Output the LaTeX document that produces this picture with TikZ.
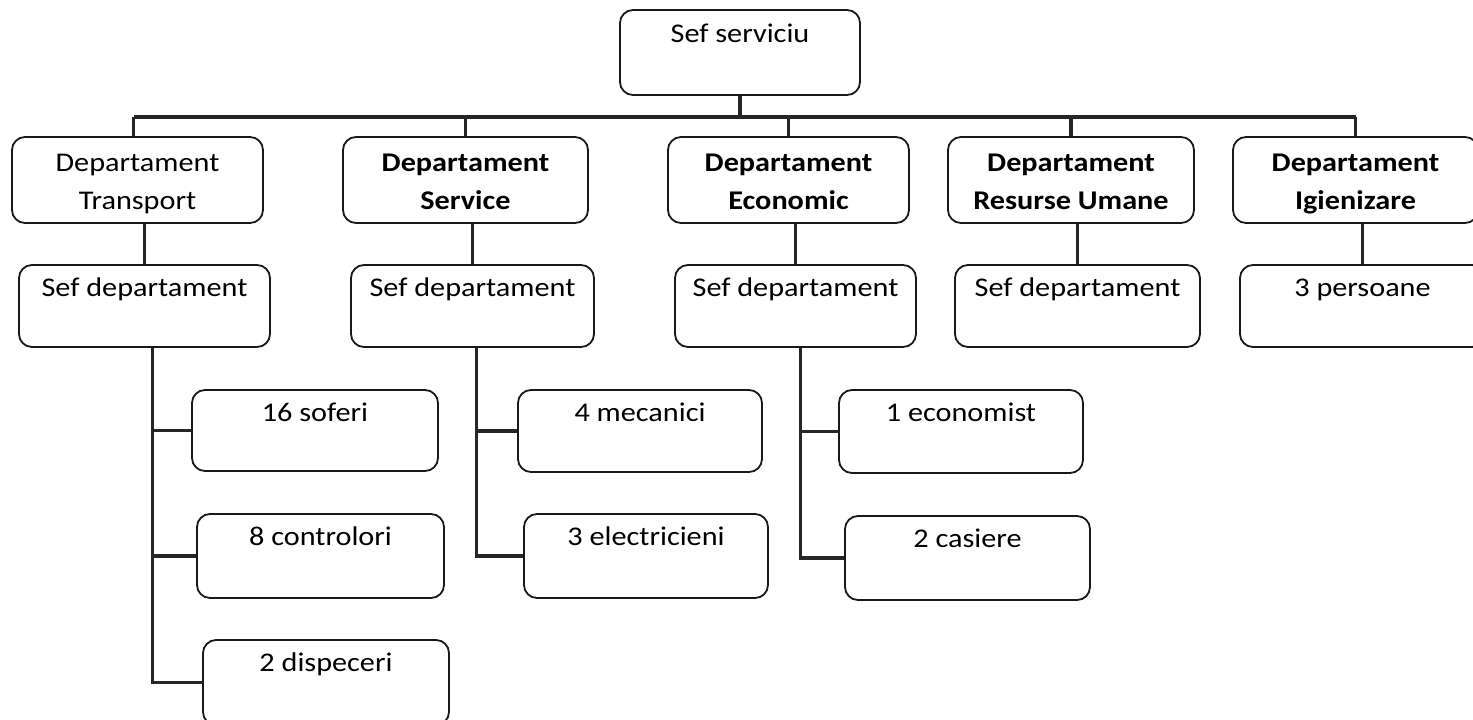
\documentclass[tikz,border=0pt]{standalone}
\usepackage{fontspec}
\setmainfont{Carlito}[FakeStretch=1.12]
\begin{document}
\begin{tikzpicture}[x=1pt,y=-1pt,
 box/.style={draw=black!90,line width=1.8pt,rounded corners=13pt,inner sep=0pt},
 conn/.style={draw=black!85,line width=3.4pt},
 lbl/.style={font=\fontsize{27}{32}\selectfont,inner sep=0pt,anchor=base},
 hdr/.style={lbl,font=\fontsize{27}{32}\selectfont\bfseries}]
\newcommand{\mkbox}[5]{\node[box,minimum width={(#4-#2)*1pt},minimum height={(#5-#3)*1pt}] (#1) at ({(#2+#4)/2},{(#3+#5)/2}) {};}
\useasboundingbox (0,0) rectangle (1473,720);
\fill[white] (0,0) rectangle (1473,720);
\clip (0,0) rectangle (1473,720);
% top
\mkbox{top}{620}{10}{860}{95}
\node[lbl] (ttop) at ([yshift=-33pt]top.north) {Sef serviciu};
% departments
\mkbox{DT}{12}{137}{263}{223}
\mkbox{DS}{343}{137}{588}{223}
\mkbox{DE}{668}{137}{909}{223}
\mkbox{DR}{948}{137}{1194}{223}
\mkbox{DI}{1233}{137}{1478}{223}
\node[lbl] (tDT1) at ([yshift=-35pt]DT.north) {Departament};
\node[lbl] (tDT2) at ([yshift=-73pt]DT.north) {Transport};
\node[hdr] (tDS1) at ([yshift=-35pt]DS.north) {Departament};
\node[hdr] (tDS2) at ([yshift=-73pt]DS.north) {Service};
\node[hdr] (tDE1) at ([yshift=-35pt]DE.north) {Departament};
\node[hdr] (tDE2) at ([yshift=-73pt]DE.north) {Economic};
\node[hdr] (tDR1) at ([yshift=-35pt]DR.north) {Departament};
\node[hdr] (tDR2) at ([yshift=-73pt]DR.north) {Resurse Umane};
\node[hdr] (tDI1) at ([yshift=-35pt]DI.north) {Departament};
\node[hdr] (tDI2) at ([yshift=-73pt]DI.north) {Igienizare};
% heads
\mkbox{ST}{19}{265}{270}{347}
\mkbox{SS}{351}{265}{594}{347}
\mkbox{SE}{675}{265}{916}{347}
\mkbox{SR}{955}{265}{1200}{347}
\mkbox{SI}{1240}{265}{1485}{347}
\node[lbl] (tST) at ([yshift=-32pt]ST.north) {Sef departament};
\node[lbl] (tSS) at ([yshift=-32pt]SS.north) {Sef departament};
\node[lbl] (tSE) at ([yshift=-32pt]SE.north) {Sef departament};
\node[lbl] (tSR) at ([yshift=-32pt]SR.north) {Sef departament};
\node[lbl] (tSI) at ([yshift=-32pt]SI.north) {3 persoane};
% staff
\mkbox{T1}{192}{390}{438}{471}
\mkbox{T2}{197}{514}{444}{598}
\mkbox{T3}{203}{640}{449}{725}
\mkbox{S1}{518}{390}{762}{472}
\mkbox{S2}{524}{514}{768}{598}
\mkbox{E1}{839}{390}{1083}{473}
\mkbox{E2}{845}{516}{1090}{600}
\node[lbl] (tT1) at ([yshift=-32pt]T1.north) {16 soferi};
\node[lbl] (tT2) at ([yshift=-32pt]T2.north) {8 controlori};
\node[lbl] (tT3) at ([yshift=-32pt]T3.north) {2 dispeceri};
\node[lbl] (tS1) at ([yshift=-32pt]S1.north) {4 mecanici};
\node[lbl] (tS2) at ([yshift=-32pt]S2.north) {3 electricieni};
\node[lbl] (tE1) at ([yshift=-32pt]E1.north) {1 economist};
\node[lbl] (tE2) at ([yshift=-32pt]E2.north) {2 casiere};
% connectors
\coordinate (bus) at (740,117);
\draw[conn] (top.south) -- (top.south |- bus);
\draw[conn] ([xshift=-4pt]DT.north |- bus) -- (DI.north |- bus);
\draw[conn] ([xshift=-4pt]DT.north) -- ([xshift=-4pt]DT.north |- bus);
\foreach \n in {DS,DE,DR,DI} \draw[conn] (\n.north) -- (\n.north |- bus);
\foreach \n in {T,S,E,R,I} \draw[conn] (S\n.north) -- (S\n.north |- D\n.south);
\coordinate (spT) at ([xshift=8pt]ST.south);
\coordinate (spS) at ([xshift=4pt]SS.south);
\coordinate (spE) at ([xshift=5pt]SE.south);
\draw[conn] (spT) -- (spT |- T3.west) -- (T3.west);
\draw[conn] (spT |- T1.west) -- (T1.west);
\draw[conn] (spT |- T2.west) -- (T2.west);
\draw[conn] (spS) -- (spS |- S2.west) -- (S2.west);
\draw[conn] (spS |- S1.west) -- (S1.west);
\draw[conn] (spE) -- (spE |- E2.west) -- (E2.west);
\draw[conn] (spE |- E1.west) -- (E1.west);
\end{tikzpicture}
\end{document}
